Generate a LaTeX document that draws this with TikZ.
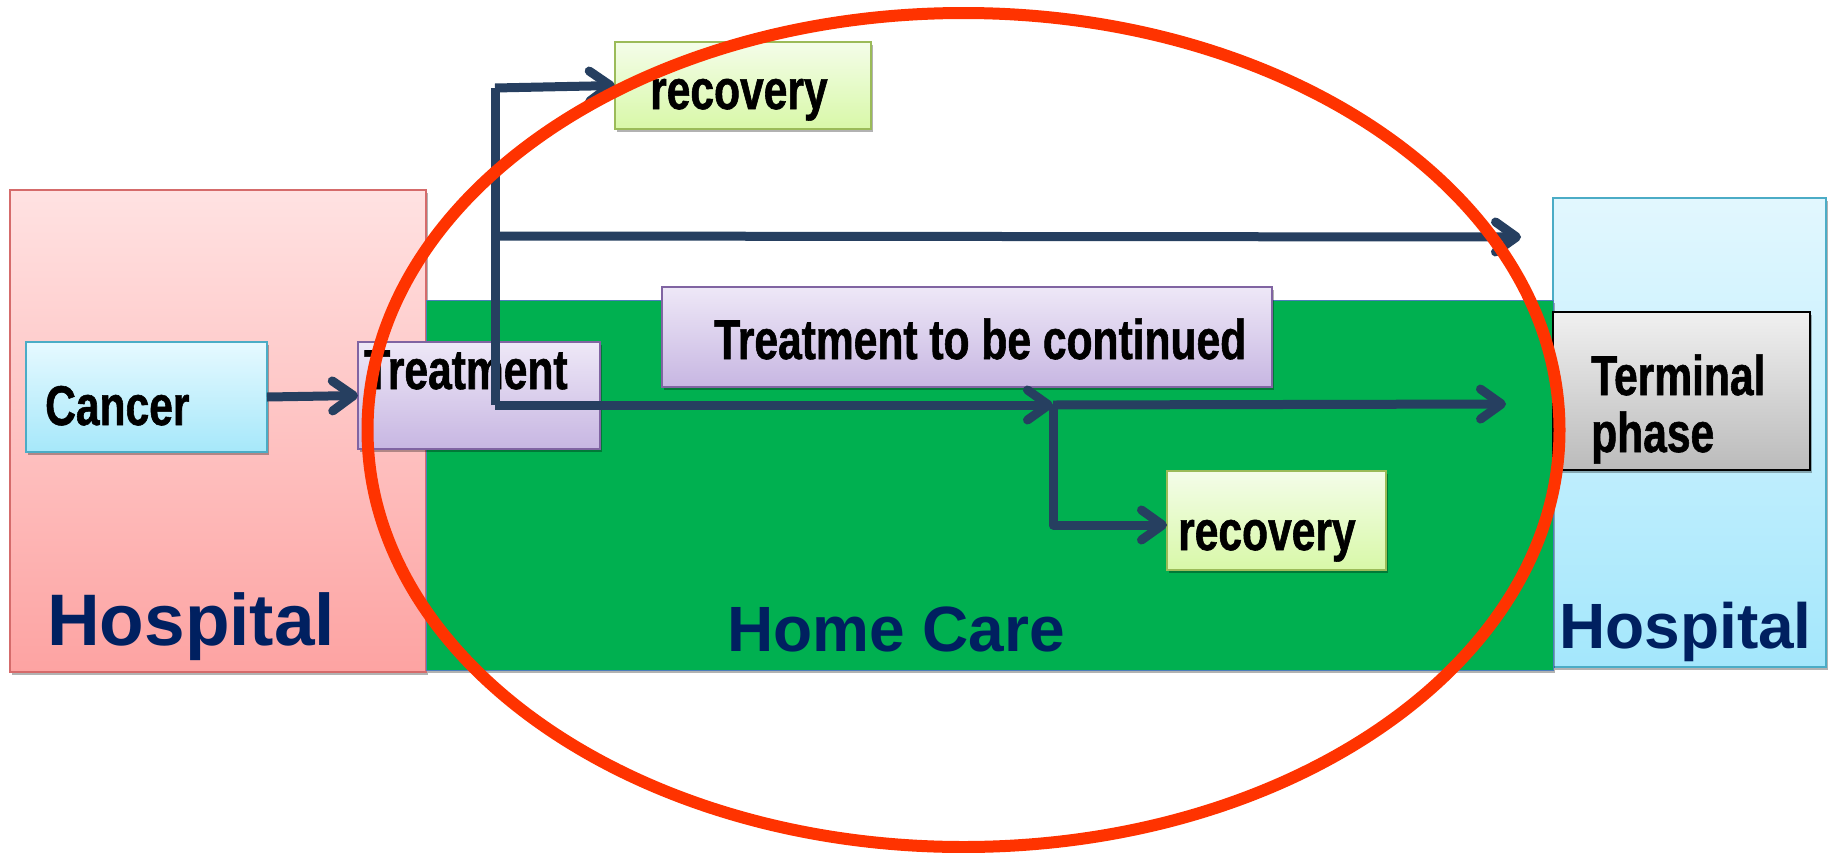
\documentclass[tikz,border=0pt]{standalone}
\usepackage{fontspec}
\setmainfont{Liberation Sans}
\newfontfamily\boxfont[FakeStretch=0.76,FakeBold=1]{Liberation Sans}
\usetikzlibrary{arrows.meta,shadows}
\definecolor{arr}{HTML}{263F60}
\definecolor{navy}{HTML}{002060}
\definecolor{homegreen}{HTML}{00B050}
\definecolor{ringred}{HTML}{FF3300}
\definecolor{HospLLine}{HTML}{D56B6B}
\definecolor{HospLTop}{HTML}{FFE2E2}
\definecolor{HospLBot}{HTML}{FDA3A2}
\definecolor{HospRLine}{HTML}{4BACC6}
\definecolor{HospRTop}{HTML}{E2F7FE}
\definecolor{HospRBot}{HTML}{A4E7FC}
\definecolor{CanTop}{HTML}{E6F9FF}
\definecolor{CanBot}{HTML}{A6E8FA}
\definecolor{TrLine}{HTML}{8064A2}
\definecolor{TrTop}{HTML}{EEE8F7}
\definecolor{TrBot}{HTML}{C7B6E2}
\definecolor{RecLine}{HTML}{9BBB59}
\definecolor{RecTop}{HTML}{F4FDE9}
\definecolor{RecBot}{HTML}{D8F8A8}
\definecolor{TeTop}{HTML}{F0F0F0}
\definecolor{TeBot}{HTML}{BBBBBB}
\definecolor{HomeLine}{HTML}{4A7EBB}
\tikzset{
  boxbase/.style={draw, rectangle, inner sep=0pt, outer sep=0pt, line width=1.3pt},
  shad/.style={drop shadow={shadow xshift=2pt, shadow yshift=-3pt, opacity=0.3, fill=black}},
  hospLbox/.style={boxbase, shad, draw=HospLLine, top color=HospLTop, bottom color=HospLBot},
  hospRbox/.style={boxbase, shad, draw=HospRLine, top color=HospRTop, bottom color=HospRBot},
  cancerbox/.style={boxbase, shad, draw=HospRLine, top color=CanTop, bottom color=CanBot},
  treatbox/.style={boxbase, shad, draw=TrLine, top color=TrTop, bottom color=TrBot},
  recbox/.style={boxbase, shad, draw=RecLine, top color=RecTop, bottom color=RecBot},
  termbox/.style={boxbase, shad, draw=black, top color=TeTop, bottom color=TeBot},
  greenbox/.style={boxbase, shad, draw=HomeLine, line width=1pt, fill=homegreen},
  boxtxt/.style={anchor=base west, inner sep=0pt, text=black,
    font=\boxfont\bfseries\fontsize{56}{60}\selectfont},
  bigtxt/.style={anchor=base west, inner sep=0pt, text=navy,
    font=\bfseries\fontsize{64}{70}\selectfont},
  flow/.style={draw=arr, line width=9pt, line join=round,
    -{Straight Barb[length=21pt,width=30pt,round]}},
  plainflow/.style={draw=arr, line width=9pt, line join=round},
}
\begin{document}
\begin{tikzpicture}[x=1pt,y=-1pt]
\useasboundingbox (0,0) rectangle (1834,852);
\fill[white] (0,0) rectangle (1834,852);

% regions
\node[hospLbox, minimum width=416pt, minimum height=482pt] (hospl) at (218,431) {};
\node[hospRbox, minimum width=273pt, minimum height=469pt] (hospr) at (1689.5,432.5) {};
\node[greenbox, minimum width=1127pt, minimum height=370pt] (home) at (989.5,485) {};

% boxes
\node[cancerbox, minimum width=241pt, minimum height=110pt] (cancer) at (146.5,397) {};
\node[treatbox, minimum width=242pt, minimum height=107pt] (treat) at (479,395.5) {};
\node[recbox, minimum width=256pt, minimum height=87pt] (rec1) at (743,85.5) {};
\node[treatbox, minimum width=610pt, minimum height=100pt] (ttbc) at (967,337) {};
\node[recbox, minimum width=219pt, minimum height=99pt] (rec2) at (1276.5,520.5) {};
\node[termbox, minimum width=257pt, minimum height=158pt] (term) at (1681.5,391) {};

% box texts
\node[boxtxt] (tcancer) at (45,425) {Cancer};
\node[boxtxt] (ttreat) at (364,389) {Treatment};
\node[boxtxt] (trec1) at (650,109) {recovery};
\node[boxtxt] (tttbc) at (714,359) {Treatment to be continued};
\node[boxtxt] (trec2) at (1178,550) {recovery};
\node[boxtxt] (tterm1) at (1591,395) {Terminal};
\node[boxtxt] (tterm2) at (1591,452) {phase};

% region labels
\node[bigtxt, font=\bfseries\fontsize{73}{80}\selectfont] (lhosp) at (47,645) {Hospital};
\node[bigtxt] (lhome) at (727,651) {Home Care};
\node[bigtxt] (rhosp) at (1559,648) {Hospital};

% connectors
\coordinate (vtop) at (495,88);
\coordinate (vmid) at (495,236);
\coordinate (vbot) at (495,405);
\coordinate (jn) at (1053,405);
\coordinate (tipT) at (1521,237);
\coordinate (tipL) at (1506,404);
\coordinate (brk) at (1053,525);

\draw[flow] (cancer.east) -- (treat.west);
\draw[plainflow] (vbot) -- (vtop);
\draw[flow] (vtop) -- (rec1.west);
\draw[flow] (vmid) -- (tipT);
\draw[flow] (vbot) -- (jn);
\draw[flow] (jn) -- (tipL);
\draw[flow] (jn) -- (brk) -- (rec2.west |- brk);

% ring
\draw[ringred, line width=12pt] (963.5,430) ellipse [x radius=596, y radius=417];
\end{tikzpicture}
\end{document}
